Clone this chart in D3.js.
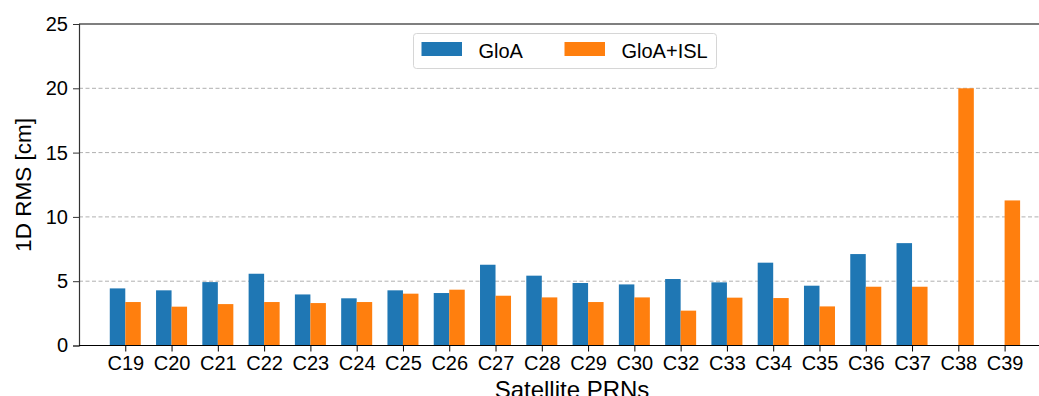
<!DOCTYPE html>
<html>
<head>
<meta charset="UTF-8">
<script src="https://d3js.org/d3.v7.min.js"></script>
<style>
  body { margin: 0; background: white; }
  text { font-family: "Liberation Sans", Arial, sans-serif; fill: #000; }
  .grid line { stroke: #b0b0b0; stroke-dasharray: 4,2.5; stroke-width: 1; }
</style>
</head>
<body>
<script>
var prns = ["C19","C20","C21","C22","C23","C24","C25","C26","C27","C28","C29","C30","C32","C33","C34","C35","C36","C37","C38","C39"];
var gloa = [4.44,4.29,4.93,5.58,3.97,3.67,4.29,4.08,6.28,5.43,4.86,4.75,5.17,4.91,6.44,4.65,7.11,7.96,null,null];
var gloaIsl = [3.38,3.02,3.22,3.38,3.30,3.38,4.03,4.34,3.87,3.74,3.38,3.74,2.71,3.72,3.69,3.04,4.57,4.57,20.0,11.28];
var yTicks = [0,5,10,15,20,25];
var seriesNames = ["GloA","GloA+ISL"];
var colors = ["#1f77b4","#ff7f0e"];

var W = 1039, H = 396;
var mLeft = 79, mTop = 24, mBottom = 345.5;
var svg = d3.select("body").append("svg").attr("width", W).attr("height", H);

// category index -> pixel; x limits -1..20 (right edge falls off the picture)
var x = d3.scaleLinear().domain([-1, prns.length]).range([mLeft, mLeft + 46.28 * (prns.length + 1)]);
var y = d3.scaleLinear().domain([0, 25]).range([mBottom, mTop]);
var bw = x(0.335) - x(0);

// grid
svg.append("g").attr("class", "grid").selectAll("line")
  .data(yTicks.filter(function (t) { return t > 0 && t < 25; }))
  .enter().append("line")
  .attr("x1", mLeft).attr("x2", W)
  .attr("y1", function (d) { return y(d); }).attr("y2", function (d) { return y(d); });

// bars
var series = [gloa, gloaIsl];
series.forEach(function (vals, s) {
  svg.append("g").selectAll("rect")
    .data(vals.map(function (v, i) { return { i: i, v: v }; }).filter(function (d) { return d.v != null; }))
    .enter().append("rect")
    .attr("x", function (d) { return s === 0 ? x(d.i) - bw : x(d.i); })
    .attr("y", function (d) { return y(d.v); })
    .attr("width", bw)
    .attr("height", function (d) { return y(0) - y(d.v); })
    .attr("fill", colors[s]);
});

// top spine
svg.append("line").attr("x1", mLeft).attr("x2", W).attr("y1", mTop).attr("y2", mTop)
  .attr("stroke", "#000").attr("stroke-width", 1.2);

// y axis
var yAxis = d3.axisLeft(y).tickValues(yTicks).tickSize(6).tickPadding(5);
var gy = svg.append("g").attr("transform", "translate(" + mLeft + ",0)").call(yAxis);
gy.select(".domain").attr("stroke", "#333").attr("stroke-width", 1.2);
gy.selectAll(".tick line").attr("stroke", "#333");
gy.selectAll("text").attr("font-size", 20).attr("font-family", "Liberation Sans, Arial, sans-serif").attr("fill", "#000");

// x axis
var xAxis = d3.axisBottom(x).tickValues(d3.range(prns.length)).tickFormat(function (i) { return prns[i]; })
  .tickSize(6).tickPadding(4);
var gx = svg.append("g").attr("transform", "translate(0," + mBottom + ")").call(xAxis);
gx.select(".domain").attr("d", "M" + mLeft + ",0H" + W).attr("stroke", "#000").attr("stroke-width", 1.2);
gx.selectAll(".tick line").attr("stroke", "#000");
gx.selectAll("text").attr("font-size", 20).attr("font-family", "Liberation Sans, Arial, sans-serif").attr("fill", "#000");

// axis titles
svg.append("text").attr("transform", "translate(31,185) rotate(-90)")
  .attr("text-anchor", "middle").attr("font-size", 22.5).text("1D RMS [cm]");
svg.append("text").attr("x", 572).attr("y", 397.5).attr("text-anchor", "middle")
  .attr("font-size", 24).text("Satellite PRNs");

// legend
var lg = svg.append("g").attr("transform", "translate(413.5,33.5)");
lg.append("rect").attr("width", 303).attr("height", 35).attr("rx", 3)
  .attr("fill", "white").attr("stroke", "#d6d6d6");
var lx = [8, 151];
seriesNames.forEach(function (n, i) {
  lg.append("rect").attr("x", lx[i]).attr("y", 8.5).attr("width", 40.5).attr("height", 14).attr("fill", colors[i]);
  lg.append("text").attr("x", lx[i] + 57).attr("y", 24.5).attr("font-size", 20).text(n);
});
</script>
</body>
</html>
